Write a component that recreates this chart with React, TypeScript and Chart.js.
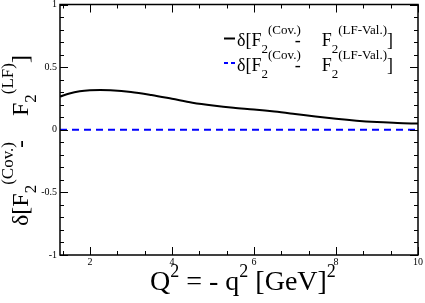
import React, { useEffect, useRef } from "react";
import { Chart, registerables } from "chart.js";
Chart.register(...registerables);

// Q^2 values [GeV^2] and delta[F2(Cov.) - F2(LF-Val.)]
const q2 = [1.27, 1.5, 1.75, 2.0, 2.25, 2.5, 3.0, 3.5, 4.0, 4.5, 5.0, 5.5, 6.0, 6.5, 7.0, 7.5, 8.0, 8.5, 9.0, 9.5, 10.0];
const deltaCovLF = [0.265, 0.29, 0.307, 0.315, 0.317, 0.315, 0.302, 0.277, 0.247, 0.216, 0.193, 0.175, 0.162, 0.146, 0.126, 0.105, 0.087, 0.072, 0.061, 0.053, 0.05];
const q2Zero = [1.27, 10.0];
const deltaZero = [0, 0];

const xMin = 1.27;
const xMax = 10;
const yMin = -1;
const yMax = 1;
const xTickValues = [2, 4, 6, 8, 10];
const yTickValues = [-1, -0.5, 0, 0.5, 1];
const xTickLabels = ["2", "4", "6", "8", "10"];
const yTickLabels = ["-1", "-0.5", "0", "0.5", "1"];

const SERIF = '"Liberation Serif", "DejaVu Serif", "Times New Roman", serif';

type Seg = { t: string; size: number; dy?: number; dx?: number };

function drawRich(ctx: CanvasRenderingContext2D, x: number, y: number, segs: Seg[]) {
  let cx = x;
  for (const s of segs) {
    cx += s.dx || 0;
    ctx.font = `${s.size}px ${SERIF}`;
    ctx.fillText(s.t, cx, y + (s.dy || 0));
    cx += ctx.measureText(s.t).width;
  }
}

const framePlugin = {
  id: "frameTicks",
  afterDraw(chart: any) {
    const ctx: CanvasRenderingContext2D = chart.ctx;
    const { left, right, top, bottom } = chart.chartArea;
    const xs = chart.scales.x;
    const ys = chart.scales.y;
    ctx.save();
    ctx.strokeStyle = "#000";
    ctx.lineWidth = 1;
    // x ticks (major every 2, two minor between)
    for (let k = 2; k <= 15; k++) {
      const v = (k * 2) / 3;
      if (v < xMin - 1e-6 || v > xMax + 1e-6) continue;
      const len = k % 3 === 0 ? 8 : 4;
      const px = Math.round(xs.getPixelForValue(v)) + 0.5;
      ctx.beginPath();
      ctx.moveTo(px, bottom);
      ctx.lineTo(px, bottom - len);
      ctx.moveTo(px, top);
      ctx.lineTo(px, top + len);
      ctx.stroke();
    }
    // y ticks (major every 0.5, minor every 0.1)
    for (let k = -10; k <= 10; k++) {
      const v = k / 10;
      const len = k % 5 === 0 ? 8 : 4;
      const py = Math.round(ys.getPixelForValue(v)) + 0.5;
      ctx.beginPath();
      ctx.moveTo(left, py);
      ctx.lineTo(left + len, py);
      ctx.moveTo(right, py);
      ctx.lineTo(right - len, py);
      ctx.stroke();
    }
    ctx.lineWidth = 1.5;
    ctx.strokeRect(left, top, right - left, bottom - top);

    // tick labels
    ctx.fillStyle = "#000";
    ctx.font = `10px ${SERIF}`;
    ctx.textAlign = "center";
    ctx.textBaseline = "top";
    xTickValues.forEach((v, i) => {
      ctx.fillText(xTickLabels[i], xs.getPixelForValue(v), bottom + 2);
    });
    ctx.textAlign = "right";
    ctx.textBaseline = "middle";
    yTickValues.forEach((v, i) => {
      ctx.fillText(yTickLabels[i], left - 3, ys.getPixelForValue(v));
    });
    ctx.textAlign = "left";
    ctx.textBaseline = "alphabetic";

    // legend
    ctx.lineWidth = 2;
    ctx.strokeStyle = "#000";
    ctx.setLineDash([]);
    ctx.beginPath();
    ctx.moveTo(224, 38.5);
    ctx.lineTo(235, 38.5);
    ctx.stroke();
    ctx.strokeStyle = "#0000ff";
    ctx.setLineDash([4, 3]);
    ctx.beginPath();
    ctx.moveTo(224, 63);
    ctx.lineTo(238, 63);
    ctx.stroke();
    ctx.setLineDash([]);
    const legendSegs: Seg[] = [
      { t: "δ[F", size: 18 },
      { t: "2", size: 13, dy: 7 },
      { t: "(Cov.)", size: 13, dy: -12 },
      { t: "-", size: 18, dx: -6 },
      { t: "F", size: 18, dx: 21 },
      { t: "2", size: 13, dy: 7 },
      { t: "(LF-Val.)", size: 13, dy: -12 },
      { t: "]", size: 18 },
    ];
    drawRich(ctx, 237, 45.5, legendSegs);
    drawRich(ctx, 237, 70.5, legendSegs);

    // x axis title
    const xSegs: Seg[] = [
      { t: "Q", size: 28 },
      { t: "2", size: 18, dy: -13 },
      { t: " = - q", size: 28 },
      { t: "2", size: 18, dy: -13 },
      { t: " [GeV]", size: 28 },
      { t: "2", size: 18, dy: -13 },
    ];
    drawRich(ctx, 150, 290, xSegs);

    // y axis title (rotated)
    ctx.save();
    ctx.translate(28, 226);
    ctx.rotate(-Math.PI / 2);
    const ySegs: Seg[] = [
      { t: "δ[F", size: 24 },
      { t: "2", size: 17, dy: 8 },
      { t: "(Cov.)", size: 17, dy: -15 },
      { t: "-", size: 24, dx: -6 },
      { t: "F", size: 24, dx: 24 },
      { t: "2", size: 17, dy: 8 },
      { t: "(LF)", size: 17, dy: -15 },
      { t: "]", size: 24 },
    ];
    drawRich(ctx, 0, 0, ySegs);
    ctx.restore();
    ctx.restore();
  },
};

export default function App() {
  const ref = useRef<HTMLCanvasElement | null>(null);
  useEffect(() => {
    if (!ref.current) return;
    const chart = new Chart(ref.current, {
      type: "line",
      data: {
        datasets: [
          {
            label: "cov",
            data: q2.map((x, i) => ({ x, y: deltaCovLF[i] })),
            borderColor: "#000",
            borderWidth: 2,
            pointRadius: 0,
            cubicInterpolationMode: "monotone",
            fill: false,
          },
          {
            label: "zero",
            data: q2Zero.map((x, i) => ({ x, y: deltaZero[i] })),
            borderColor: "#0000ff",
            borderWidth: 2,
            borderDash: [7, 5],
            pointRadius: 0,
            fill: false,
          },
        ],
      },
      options: {
        responsive: false,
        animation: false,
        devicePixelRatio: 1,
        layout: { padding: { top: 4.5, right: 7, left: 0, bottom: 0 } },
        plugins: { legend: { display: false }, tooltip: { enabled: false } },
        scales: {
          x: {
            type: "linear",
            min: xMin,
            max: xMax,
            afterBuildTicks: (s: any) => {
              s.ticks = xTickValues.map((v) => ({ value: v }));
            },
            afterFit: (s: any) => {
              s.height = 48;
            },
            grid: { display: false, drawTicks: false },
            border: { display: false },
            ticks: { display: false },
          },
          y: {
            type: "linear",
            min: yMin,
            max: yMax,
            afterBuildTicks: (s: any) => {
              s.ticks = yTickValues.map((v) => ({ value: v }));
            },
            afterFit: (s: any) => {
              s.width = 60;
            },
            grid: { display: false, drawTicks: false },
            border: { display: false },
            ticks: { display: false },
          },
        },
      },
      plugins: [framePlugin],
    } as any);
    return () => chart.destroy();
  }, []);
  return (
    <div style={{ position: "absolute", left: 0, top: 0, width: 425, height: 303, background: "#fff" }}>
      <canvas ref={ref} width={425} height={303} />
    </div>
  );
}
